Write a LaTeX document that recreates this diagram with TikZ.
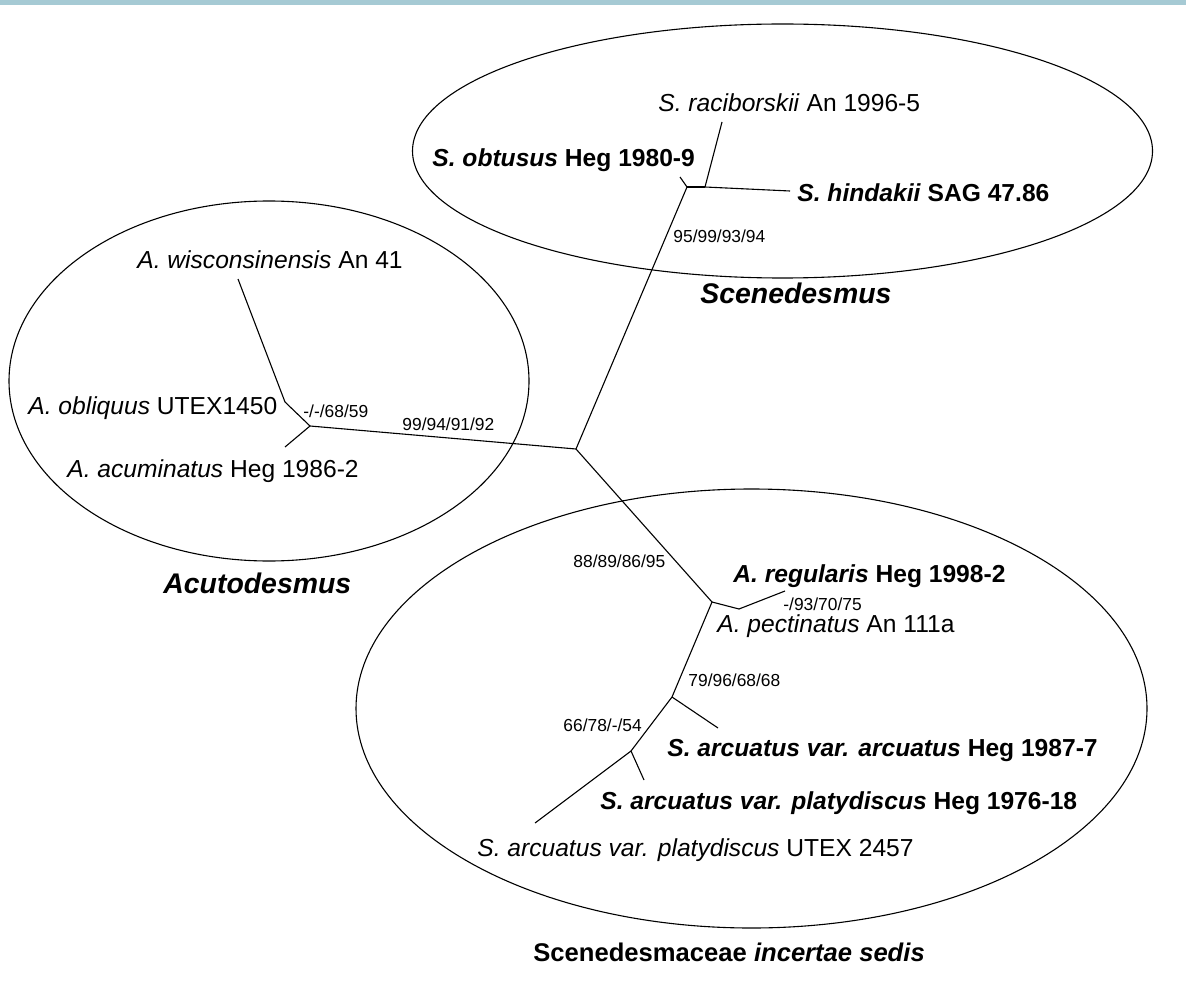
\documentclass[tikz,border=0pt]{standalone}
\usepackage{fontspec}
\setmainfont{Liberation Sans}
\definecolor{barblue}{RGB}{166,202,212}
\begin{document}
\begin{tikzpicture}[x=0.5pt,y=-0.5pt,
  leaf/.style={anchor=base west, inner sep=0pt, font=\fontsize{12.3}{14}\selectfont},
  sup/.style={anchor=base west, inner sep=0pt, font=\fontsize{8.7}{10}\selectfont},
  grp/.style={anchor=base west, inner sep=0pt, font=\fontsize{14.2}{17}\selectfont\bfseries},
  br/.style={line width=0.55pt, line join=round},
  clade/.style={line width=0.55pt}]
\useasboundingbox (0,0) rectangle (1186,989);
\fill[barblue] (0,0) rectangle (1186,5);

% clade ellipses
\draw[clade] (782.5,151) ellipse [x radius=185pt, y radius=63.5pt];
\draw[clade] (269,381) ellipse [x radius=130pt, y radius=90pt];
\draw[clade] (751.5,708.5) ellipse [x radius=197.75pt, y radius=109.75pt];

% tree junctions and tips
\coordinate (C) at (576,449);
\coordinate (A) at (310,426);
\coordinate (Ai) at (285,402);
\coordinate (twis) at (238,279);
\coordinate (tacu) at (285,447);
\coordinate (S) at (687,187);
\coordinate (tobt) at (680,177);
\coordinate (Sr) at (705,187);
\coordinate (trac) at (722,122);
\coordinate (thin) at (790,191);
\coordinate (R) at (712,602);
\coordinate (Ri) at (739,609);
\coordinate (treg) at (785,591);
\coordinate (N1) at (672,697);
\coordinate (tarc) at (718,728);
\coordinate (N2) at (631,751);
\coordinate (tpla) at (644,780);
\coordinate (tutx) at (535,823);

\draw[br] (A) -- (C);
\draw[br] (C) -- (S);
\draw[br] (C) -- (R);
\draw[br] (A) -- (Ai);
\draw[br] (Ai) -- (twis);
\draw[br] (A) -- (tacu);
\draw[br] (S) -- (tobt);
\draw[br] (S) -- (Sr);
\draw[br] (Sr) -- (trac);
\draw[br] (Sr) -- (thin);
\draw[br] (R) -- (Ri);
\draw[br] (Ri) -- (treg);
\draw[br] (R) -- (N1);
\draw[br] (N1) -- (tarc);
\draw[br] (N1) -- (N2);
\draw[br] (N2) -- (tpla);
\draw[br] (N2) -- (tutx);

% leaf labels
\node[leaf] (lwis) at (137,269) {\textit{A. wisconsinensis} An 41};
\node[leaf] (lobl) at (28,414) {\textit{A. obliquus} UTEX1450};
\node[leaf] (lacu) at (67,477) {\textit{A. acuminatus} Heg 1986-2};
\node[leaf] (lrac) at (658,112) {\textit{S. raciborskii} An 1996-5};
\node[leaf] (lobt) at (432,167) {\bfseries\textit{S. obtusus} Heg 1980-9};
\node[leaf] (lhin) at (797,202) {\bfseries\textit{S. hindakii} SAG 47.86};
\node[leaf] (lreg) at (733,582) {\bfseries\textit{A. regularis} Heg 1998-2};
\node[leaf] (lpec) at (717,632) {\textit{A. pectinatus} An 111a};
\node[leaf] (larc) at (667,756) {\bfseries\textit{S. arcuatus var. arcuatus} Heg 1987-7};
\node[leaf] (lpla) at (600,809) {\bfseries\textit{S. arcuatus var. platydiscus} Heg 1976-18};
\node[leaf] (lutx) at (477,856) {\textit{S. arcuatus var. platydiscus} UTEX 2457};

% support values
\node[sup] (s1) at (673,243) {95/99/93/94};
\node[sup] (s2) at (402,430) {99/94/91/92};
\node[sup] (s3) at (303,417) {-/-/68/59};
\node[sup] (s4) at (573,567) {88/89/86/95};
\node[sup] (s5) at (783,610) {-/93/70/75};
\node[sup] (s6) at (688,686) {79/96/68/68};
\node[sup] (s7) at (563,731) {66/78/-/54};

% group labels
\node[grp] (gsce) at (700,303) {\itshape Scenedesmus};
\node[grp] (gacu) at (163,593) {\itshape Acutodesmus};
\node[grp, font=\fontsize{12.8}{15}\selectfont\bfseries] (ginc) at (533,961) {Scenedesmaceae \textit{incertae sedis}};
\end{tikzpicture}
\end{document}
